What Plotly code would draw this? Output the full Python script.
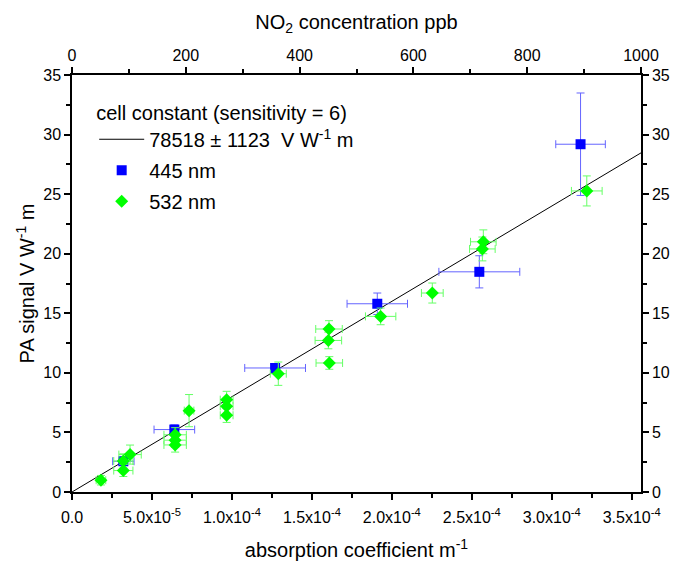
import plotly.graph_objects as go

# ---- data ----
blue_x = [3.21e-5, 6.40e-5, 1.27e-4, 1.909e-4, 2.547e-4, 3.18e-4]
blue_y = [2.58, 5.24, 10.41, 15.8, 18.48, 29.19]
blue_xerr = [6.7e-6, 1.27e-5, 1.9e-5, 1.89e-5, 2.53e-5, 1.55e-5]
blue_yerr = [0.35, 0.4, 0.3, 0.9, 1.35, 4.3]

green_x = [1.81e-5, 3.21e-5, 3.21e-5, 3.63e-5, 6.45e-5, 6.45e-5, 6.45e-5, 7.32e-5,
           9.67e-5, 9.67e-5, 9.67e-5, 1.29e-4, 1.603e-4, 1.607e-4, 1.609e-4,
           1.93e-4, 2.253e-4, 2.566e-4, 2.572e-4, 3.219e-4]
green_y = [0.99, 1.8, 2.6, 3.14, 4.8, 4.35, 3.95, 6.83,
           7.75, 7.19, 6.44, 9.93, 12.72, 13.68, 10.83,
           14.74, 16.7, 20.4, 21.0, 25.27]
green_xerr = [3e-6, 6e-6, 6e-6, 7e-6, 7e-6, 7e-6, 7e-6, 3e-6,
              4e-6, 4e-6, 4e-6, 5e-6, 8.3e-6, 8.3e-6, 8.3e-6,
              9.5e-6, 6.8e-6, 8e-6, 8e-6, 9.6e-6]
green_yerr = [0.4, 0.5, 0.6, 0.8, 0.6, 0.6, 0.6, 1.35,
              0.7, 0.6, 0.6, 0.98, 0.7, 0.7, 0.53,
              0.7, 0.84, 1.0, 1.0, 1.26]

fit_slope = 80000.0
fit_x = [0.0, 3.558e-4]
fit_y = [fit_slope * v for v in fit_x]

x_tickvals = [0, 5e-5, 1e-4, 1.5e-4, 2e-4, 2.5e-4, 3e-4, 3.5e-4]
x_ticktext = ["0.0", "5.0x10<sup>-5</sup>", "1.0x10<sup>-4</sup>", "1.5x10<sup>-4</sup>",
              "2.0x10<sup>-4</sup>", "2.5x10<sup>-4</sup>", "3.0x10<sup>-4</sup>", "3.5x10<sup>-4</sup>"]
top_tickvals = [0, 200, 400, 600, 800, 1000]
y_tickvals = [0, 5, 10, 15, 20, 25, 30, 35]

FONT = "Liberation Sans, Arial, sans-serif"

fig = go.Figure()
fig.add_trace(go.Scatter(
    x=fit_x, y=fit_y, mode="lines", line=dict(color="black", width=1),
    name="78518 ± 1123  V W<sup>-1</sup> m", legendgroup="a"))
fig.add_trace(go.Scatter(
    x=blue_x, y=blue_y, mode="markers", name="445 nm", legendgroup="b",
    marker=dict(symbol="square", size=10, color="#0000ff"),
    error_x=dict(type="data", array=blue_xerr, color="#6464ff", thickness=1, width=4),
    error_y=dict(type="data", array=blue_yerr, color="#6464ff", thickness=1, width=4)))
fig.add_trace(go.Scatter(
    x=green_x, y=green_y, mode="markers", name="532 nm", legendgroup="c",
    marker=dict(symbol="diamond", size=10, color="#00ff00"),
    error_x=dict(type="data", array=green_xerr, color="#66ff66", thickness=1, width=4),
    error_y=dict(type="data", array=green_yerr, color="#66ff66", thickness=1, width=4)))
# invisible traces to activate secondary axes
fig.add_trace(go.Scatter(x=[0, 1000], y=[None, None], xaxis="x2", yaxis="y", showlegend=False, hoverinfo="skip"))
fig.add_trace(go.Scatter(x=[None, None], y=[0, 35], xaxis="x", yaxis="y2", showlegend=False, hoverinfo="skip"))

axis_common = dict(showgrid=False, zeroline=False, showline=True, linecolor="black", linewidth=1.5,
                   ticks="outside", ticklen=6, tickwidth=1.5, tickcolor="black", automargin=False,
                   tickfont=dict(family=FONT, size=16, color="black"))
minor = dict(ticks="outside", ticklen=4, tickwidth=1.5, tickcolor="black", showgrid=False)
TITLE_FONT = dict(family=FONT, size=20, color="black")

fig.update_layout(
    width=676, height=565,
    margin=dict(l=72, r=35, t=75, b=73),
    paper_bgcolor="white", plot_bgcolor="white",
    font=dict(family=FONT, size=16, color="black"),
    showlegend=True,
    legend=dict(x=0.039, y=0.955, xanchor="left", yanchor="top",
                bgcolor="rgba(0,0,0,0)", font=dict(family=FONT, size=20),
                title=dict(text="cell constant (sensitivity = 6)", font=dict(family=FONT, size=20)),
                itemwidth=45, tracegroupgap=2),
    xaxis=dict(range=[0, 3.558e-4], tickvals=x_tickvals, ticktext=x_ticktext, ticklabelstandoff=4,
               minor=dict(tickvals=[2.5e-5 + 5e-5 * i for i in range(7)], **minor),
               title=dict(text="absorption coefficient m<sup>-1</sup>", font=TITLE_FONT, standoff=18),
               **axis_common),
    xaxis2=dict(range=[0, 1000], overlaying="x", side="top", tickvals=top_tickvals,
                minor=dict(tickvals=[100, 300, 500, 700, 900], **minor),
                title=dict(text="NO<sub>2</sub> concentration ppb", font=TITLE_FONT, standoff=12),
                **axis_common),
    yaxis=dict(range=[0, 35], tickvals=y_tickvals,
               minor=dict(tickvals=[2.5 + 5 * i for i in range(7)], **minor),
               title=dict(text="PA signal V W<sup>-1</sup> m", font=TITLE_FONT, standoff=3),
               **axis_common),
    yaxis2=dict(range=[0, 35], overlaying="y", side="right", tickvals=y_tickvals,
                minor=dict(tickvals=[2.5 + 5 * i for i in range(7)], **minor),
                **axis_common),
)

fig.write_html("out.html", config={"displayModeBar": False},
               post_script="document.body.style.margin='0';")
